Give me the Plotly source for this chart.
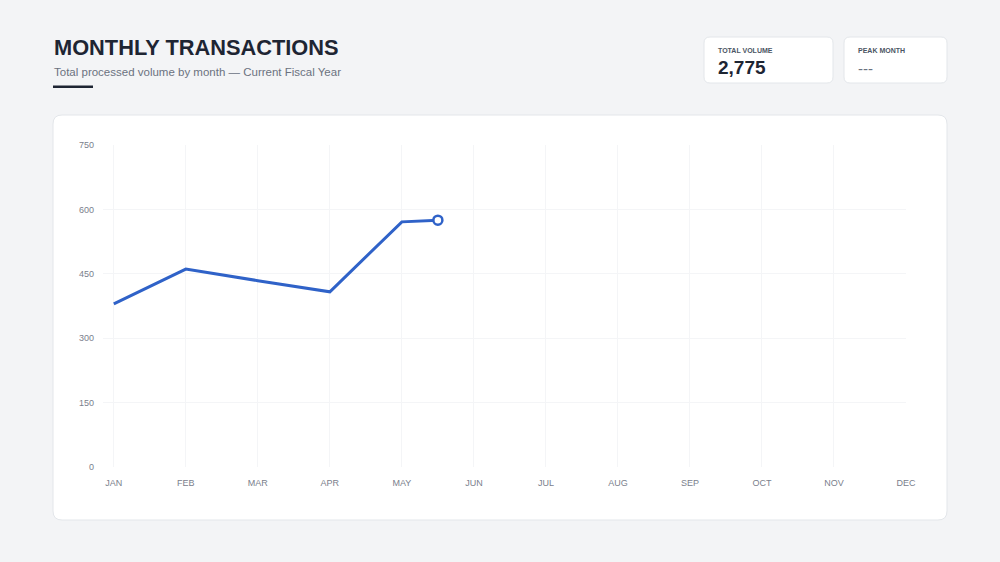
import plotly.graph_objects as go

W, H = 1000, 562

# data
months = ["JAN", "FEB", "MAR", "APR", "MAY", "JUN",
          "JUL", "AUG", "SEP", "OCT", "NOV", "DEC"]
month_index = [0, 1, 2, 3, 4, 4.5]
volume = [380, 461, 434, 408, 571, 575]
y_ticks = [0, 150, 300, 450, 600, 750]

total_volume = "2,775"
peak_month = "---"

LINE = "#2f62c8"
DARK = "#1e2533"
GREY = "#6b7280"
FONT = "Liberation Sans, Arial, sans-serif"


def px(x):
    return x / W


def py(y):
    return 1 - y / H


def rounded_box(x0, y0, x1, y1, r, fill, line):
    # pixel box -> paper path with rounded corners
    rx, ry = r / W, r / H
    a, b, c, d = px(x0), py(y1), px(x1), py(y0)
    path = (f"M {a+rx},{b} L {c-rx},{b} Q {c},{b} {c},{b+ry} "
            f"L {c},{d-ry} Q {c},{d} {c-rx},{d} "
            f"L {a+rx},{d} Q {a},{d} {a},{d-ry} "
            f"L {a},{b+ry} Q {a},{b} {a+rx},{b} Z")
    return dict(type="path", xref="paper", yref="paper", path=path,
                fillcolor=fill, line=dict(color=line, width=1), layer="below")


fig = go.Figure()

fig.add_trace(go.Scatter(
    x=month_index,
    y=volume,
    mode="lines",
    line=dict(color=LINE, width=3),
    hoverinfo="skip",
    showlegend=False
))

# last reading marker
fig.add_trace(go.Scatter(
    x=month_index[-1:],
    y=volume[-1:],
    mode="markers",
    marker=dict(size=9, color="white", line=dict(color=LINE, width=2.5)),
    showlegend=False
))

shapes = [
    rounded_box(53, 115, 947, 520, 9, "white", "#e3e6ea"),
    rounded_box(704, 37, 833, 83, 6, "white", "#e3e6ea"),
    rounded_box(844, 37, 947, 83, 6, "white", "#e3e6ea"),
    dict(type="rect", xref="paper", yref="paper",
         x0=px(53), x1=px(93), y0=py(88), y1=py(85.5),
         fillcolor=DARK, line=dict(width=0)),
]

annotations = [
    dict(text="<b>MONTHLY TRANSACTIONS</b>", x=px(52), y=py(48),
         font=dict(size=21.8, color=DARK, family=FONT)),
    dict(text="Total processed volume by month — Current Fiscal Year",
         x=px(52), y=py(72), font=dict(size=11.5, color=GREY, family=FONT)),
    dict(text="<b>TOTAL VOLUME</b>", x=px(716), y=py(50),
         font=dict(size=7, color="#4b5563", family=FONT)),
    dict(text=f"<b>{total_volume}</b>", x=px(716), y=py(67),
         font=dict(size=19, color=DARK, family=FONT)),
    dict(text="<b>PEAK MONTH</b>", x=px(856), y=py(50),
         font=dict(size=7, color="#4b5563", family=FONT)),
    dict(text=peak_month, x=px(856), y=py(68),
         font=dict(size=15, color=GREY, family=FONT)),
]
for a in annotations:
    a.update(xref="paper", yref="paper", xanchor="left", yanchor="middle",
             showarrow=False)

fig.update_layout(
    width=W,
    height=H,
    margin=dict(l=0, r=0, t=0, b=0),
    paper_bgcolor="#f3f4f6",
    plot_bgcolor="rgba(0,0,0,0)",
    font=dict(family=FONT),
    shapes=shapes,
    annotations=annotations,
    xaxis=dict(
        domain=[px(103), px(906)],
        range=[-0.15, 11],
        tickvals=list(range(12)),
        ticktext=months,
        showgrid=True,
        gridcolor="#f4f5f7",
        zeroline=False,
        showline=False,
        tickfont=dict(size=9, color="#7a808c"),
        ticklabelstandoff=9,
        automargin=False,
        fixedrange=True
    ),
    yaxis=dict(
        domain=[py(467), py(145)],
        range=[0, 750],
        tickvals=y_ticks,
        showgrid=True,
        gridcolor="#f4f5f7",
        zeroline=False,
        showline=False,
        tickfont=dict(size=9, color="#7a808c"),
        ticklabelstandoff=8,
        automargin=False,
        fixedrange=True
    ),
    hovermode=False
)

# page body margin off so the figure fills the window
fig.write_html("out.html", config={"displayModeBar": False},
               post_script="document.body.style.margin='0';"
                           "document.body.style.overflow='hidden';")
